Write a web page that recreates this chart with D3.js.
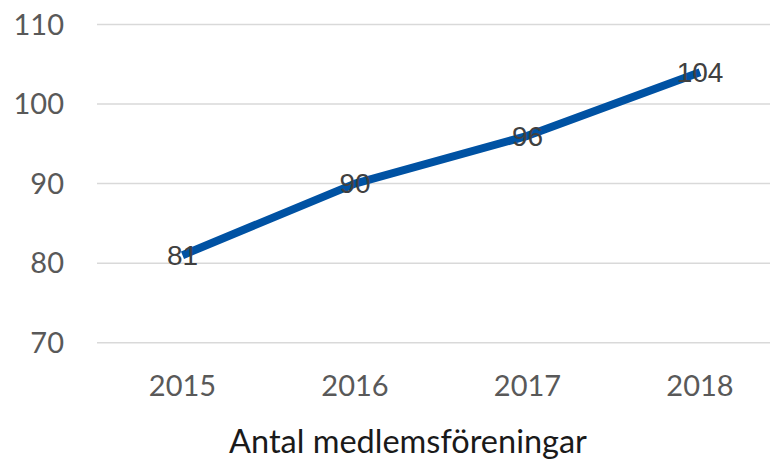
<!DOCTYPE html>
<html><head><meta charset="utf-8">
<script src="https://cdn.jsdelivr.net/npm/d3@7"></script>
<style>body{margin:0;background:#fff}svg{display:block}</style>
</head><body>
<script>
const categories = ["2015","2016","2017","2018"];
const values = [81, 90, 96, 104];
const yTicks = [70, 80, 90, 100, 110];
const title = "Antal medlemsföreningar";

const W = 773, H = 463;
const svg = d3.select("body").append("svg").attr("width", W).attr("height", H);
const x = d3.scalePoint().domain(categories).range([182.5, 700]);
const y = d3.scaleLinear().domain([70, 110]).range([342.7, 24.5]);

svg.append("g").selectAll("line").data(yTicks).join("line")
  .attr("x1", 97).attr("x2", 770)
  .attr("y1", d => y(d)).attr("y2", d => y(d))
  .attr("stroke", "#d9d9d9").attr("stroke-width", 1.5);

svg.append("g").selectAll("text").data(yTicks).join("text")
  .attr("x", 64).attr("y", d => y(d)).attr("dy", "0.35em")
  .attr("text-anchor", "end")
  .attr("font-family", "Lato").attr("font-size", 29).attr("fill", "#595959")
  .text(d => d);

svg.append("g").selectAll("text").data(categories).join("text")
  .attr("x", d => x(d)).attr("y", 396)
  .attr("text-anchor", "middle")
  .attr("font-family", "Lato").attr("font-size", 29).attr("fill", "#595959")
  .text(d => d);

const line = d3.line().x((d, i) => x(categories[i])).y(d => y(d));
svg.append("path").datum(values).attr("d", line)
  .attr("fill", "none").attr("stroke", "#0052a3").attr("stroke-width", 8)
  .attr("stroke-linejoin", "round");

svg.append("g").selectAll("text").data(values).join("text")
  .attr("x", (d, i) => x(categories[i])).attr("y", d => y(d)).attr("dy", "0.35em")
  .attr("text-anchor", "middle")
  .attr("font-family", "Liberation Sans").attr("font-size", 28).attr("fill", "#404040")
  .text(d => d);

svg.append("text").attr("x", 408).attr("y", 453).attr("text-anchor", "middle")
  .attr("font-family", "Lato").attr("font-size", 32.5).attr("fill", "#1a1a1a")
  .text(title);
</script>
</body></html>
